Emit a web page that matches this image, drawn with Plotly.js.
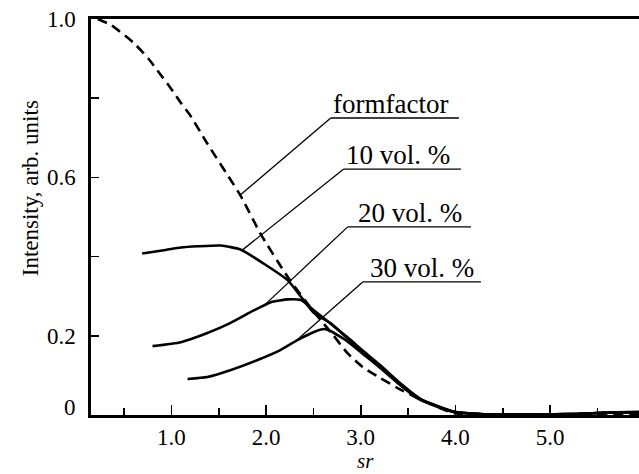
<!DOCTYPE html>
<html>
<head>
<meta charset="utf-8">
<script src="https://cdn.plot.ly/plotly-3.0.1.min.js"></script>
<style>html,body{margin:0;padding:0;background:#fff;}#chart{width:639px;height:474px;}</style>
</head>
<body>
<div id="chart"></div>
<script>
// Formfactor (dashed)
const ffX = [0.22,0.36,0.60,0.76,0.88,0.99,1.10,1.20,1.38,1.73,1.94,2.23,2.50,2.71,2.86,3.02,3.21,3.39,3.64,3.98,4.3,4.8,5.3,5.94];
const ffY = [1.0,0.985,0.94,0.899,0.861,0.826,0.788,0.756,0.685,0.554,0.458,0.348,0.262,0.2015,0.156,0.121,0.093,0.068,0.038,0.005,0.001,0.0,0.001,0.002];
// 10 vol. %
const v10X = [0.69,0.92,1.10,1.28,1.52,1.73,1.97,2.23,2.50,2.68,2.86,3.03,3.21,3.39,3.63,3.98,4.3,4.8,5.3,5.6,5.94];
const v10Y = [0.408,0.416,0.423,0.426,0.428,0.418,0.383,0.340,0.259,0.232,0.194,0.159,0.121,0.081,0.038,0.008,0.002,0.001,0.003,0.006,0.007];
// 20 vol. %
const v20X = [0.80,1.10,1.38,1.62,1.87,2.05,2.23,2.37,2.50,2.68,2.86,3.03,3.21,3.39,3.63,3.98,4.3,4.8,5.3,5.6,5.94];
const v20Y = [0.174,0.184,0.207,0.232,0.264,0.285,0.292,0.290,0.265,0.231,0.196,0.161,0.125,0.086,0.041,0.009,0.002,0.001,0.003,0.006,0.007];
// 30 vol. %
const v30X = [1.17,1.38,1.62,1.91,2.15,2.33,2.50,2.61,2.68,2.86,3.03,3.21,3.39,3.63,3.98,4.3,4.8,5.3,5.6,5.94];
const v30Y = [0.091,0.096,0.113,0.139,0.164,0.189,0.209,0.217,0.212,0.186,0.153,0.118,0.082,0.040,0.008,0.002,0.001,0.003,0.006,0.008];

// Callout labels: text, underline start/end x, underline y, leader target (x,y), text left x
const labelTexts = ['formfactor','10 vol. %','20 vol. %','30 vol. %'];
const lineX0 = [2.683,2.820,2.862,3.021];
const lineX1 = [4.037,4.058,4.164,4.270];
const lineY  = [0.750,0.621,0.475,0.336];
const tgtX   = [1.730,1.751,1.963,2.323];
const tgtY   = [0.556,0.417,0.273,0.189];
const textX  = [2.683,2.820,2.947,3.074];

const xMajor = [1,2,3,4,5];
const xMajorText = ['1.0','2.0','3.0','4.0','5.0'];
const xMinor = [0.5,1.5,2.5,3.5,4.5,5.5];
const yTicks = [0,0.2,0.4,0.6,0.8,1.0];
const yTickText = ['','0.2','','0.6','','1.0'];

const FONT = '"Liberation Serif", "Times New Roman", Times, "DejaVu Serif", serif';
const lineStyle = {color:'#000', width:2.6, shape:'spline', smoothing:0.5};

const traces = [
  {x:ffX, y:ffY, mode:'lines', line:{color:'#000', width:2.6, dash:'10px,6px', shape:'spline', smoothing:0.5}, hoverinfo:'none'},
  {x:v10X, y:v10Y, mode:'lines', line:lineStyle, hoverinfo:'none'},
  {x:v20X, y:v20Y, mode:'lines', line:lineStyle, hoverinfo:'none'},
  {x:v30X, y:v30Y, mode:'lines', line:lineStyle, hoverinfo:'none'}
];

const shapes = [];
const annotations = [];
for (let i=0;i<labelTexts.length;i++){
  shapes.push({type:'line', xref:'x', yref:'y', x0:lineX0[i], x1:lineX1[i], y0:lineY[i], y1:lineY[i], line:{color:'#000', width:1.3}});
  shapes.push({type:'line', xref:'x', yref:'y', x0:lineX0[i], x1:tgtX[i], y0:lineY[i], y1:tgtY[i], line:{color:'#000', width:1.3}});
  annotations.push({x:textX[i], y:lineY[i], xref:'x', yref:'y', xanchor:'left', yanchor:'bottom', yshift:-3, showarrow:false, text:labelTexts[i], font:{family:FONT, size:27, color:'#000'}});
}
annotations.push({x:-0.0237, y:0.02, xref:'paper', yref:'paper', xanchor:'right', yanchor:'middle', showarrow:false, text:'0', font:{family:FONT, size:23, color:'#000'}});
annotations.push({x:-0.111, y:0.573, xref:'paper', yref:'paper', xanchor:'center', yanchor:'middle', textangle:-90, showarrow:false, text:'Intensity, arb. units', font:{family:FONT, size:23, color:'#000'}});
annotations.push({x:0.5, y:-0.149, xref:'paper', yref:'paper', xanchor:'center', yanchor:'bottom', borderpad:0, showarrow:false, text:'<i>sr</i>', font:{family:FONT, size:21, color:'#000'}});

const layout = {
  width:639, height:474,
  margin:{l:91, r:0, t:19, b:59},
  paper_bgcolor:'#fff', plot_bgcolor:'#fff',
  showlegend:false,
  font:{family:FONT, size:23, color:'#000'},
  xaxis:{range:[0.15,5.94], showgrid:false, zeroline:false, showline:true, mirror:true, linecolor:'#000', linewidth:2.6,
    tickmode:'array', tickvals:xMajor, ticktext:xMajorText, ticks:'inside', ticklen:10, tickwidth:1.6, tickcolor:'#000',
    ticklabelstandoff:0,
    minor:{tickmode:'array', tickvals:xMinor, ticks:'inside', ticklen:7, tickwidth:1.6, tickcolor:'#000', showgrid:false},
    tickfont:{family:FONT, size:23, color:'#000'}},
  yaxis:{range:[0,1.0], showgrid:false, zeroline:false, showline:true, mirror:false, linecolor:'#000', linewidth:2.6,
    tickmode:'array', tickvals:yTicks, ticktext:yTickText, ticks:'inside', ticklen:8, tickwidth:1.6, tickcolor:'#000',
    ticklabelstandoff:8,
    tickfont:{family:FONT, size:23, color:'#000'}},
  shapes:shapes,
  annotations:annotations
};

Plotly.newPlot('chart', traces, layout, {staticPlot:true, displayModeBar:false});
</script>
</body>
</html>
